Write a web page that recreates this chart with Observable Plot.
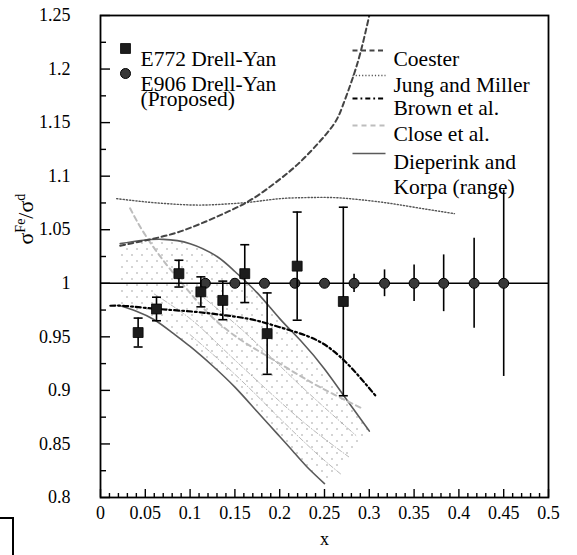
<!DOCTYPE html>
<html>
<head>
<meta charset="utf-8">
<script src="https://cdn.jsdelivr.net/npm/d3@7"></script>
<script src="https://cdn.jsdelivr.net/npm/@observablehq/plot@0.6"></script>
<style>
  body { margin: 0; background: #fff; }
  #wrap { position: relative; width: 577px; height: 555px; overflow: hidden; }
  #wrap svg, #wrap svg text { font-family: "Liberation Serif", "Times New Roman", serif !important; }
  #corner { position: absolute; left: -3px; top: 517px; width: 15px; height: 50px;
            border-top: 2px solid #000; border-right: 2px solid #000; }
</style>
</head>
<body>
<div id="wrap"><div id="corner"></div></div>
<script>
// ---- data ----
const e772X   = [0.042, 0.0625, 0.0875, 0.112, 0.1365, 0.161, 0.186, 0.2195, 0.271];
const e772Y   = [0.954, 0.976, 1.009, 0.992, 0.984, 1.009, 0.953, 1.016, 0.983];
const e772Err = [0.0135, 0.011, 0.0125, 0.014, 0.018, 0.027, 0.038, 0.0505, 0.088];

const e906X   = [0.117, 0.15, 0.183, 0.217, 0.25, 0.283, 0.317, 0.35, 0.383, 0.417, 0.45];
const e906Y   = [1, 1, 1, 1, 1, 1, 1, 1, 1, 1, 1];
const e906Err = [0.004, 0.003, 0.003, 0.004, 0.003, 0.0085, 0.0125, 0.017, 0.0265, 0.042, 0.087];

const coesterX = [0.022, 0.05, 0.08, 0.11, 0.14, 0.17, 0.2, 0.22, 0.24, 0.26, 0.27, 0.28, 0.29, 0.3];
const coesterY = [1.035, 1.04, 1.046, 1.055, 1.066, 1.079, 1.097, 1.111, 1.128, 1.148, 1.165, 1.188, 1.215, 1.25];

const jungX = [0.018, 0.05, 0.08, 0.11, 0.14, 0.17, 0.2, 0.23, 0.26, 0.29, 0.32, 0.35, 0.38, 0.395];
const jungY = [1.079, 1.076, 1.074, 1.073, 1.074, 1.076, 1.079, 1.08, 1.08, 1.078, 1.075, 1.071, 1.067, 1.065];

const brownX = [0.011, 0.025, 0.05, 0.08, 0.11, 0.14, 0.17, 0.2, 0.23, 0.255, 0.28, 0.307];
const brownY = [0.979, 0.979, 0.977, 0.975, 0.973, 0.970, 0.966, 0.959, 0.951, 0.94, 0.921, 0.895];

const closeX = [0.033, 0.05, 0.075, 0.1, 0.125, 0.155, 0.18, 0.21, 0.245, 0.29];
const closeY = [1.07, 1.045, 1.016, 0.991, 0.968, 0.948, 0.935, 0.92, 0.903, 0.884];

const dkUpperX = [0.022, 0.045, 0.07, 0.1, 0.13, 0.15, 0.175, 0.2, 0.225, 0.25, 0.275, 0.3];
const dkUpperY = [1.037, 1.040, 1.041, 1.037, 1.025, 1.011, 0.991, 0.967, 0.945, 0.92, 0.891, 0.862];
const dkLowerX = [0.022, 0.04, 0.06, 0.08, 0.1, 0.125, 0.15, 0.175, 0.2, 0.215, 0.23, 0.25];
const dkLowerY = [0.979, 0.974, 0.966, 0.954, 0.941, 0.923, 0.903, 0.880, 0.857, 0.843, 0.829, 0.813];

const range1X = [0.06, 0.1, 0.134, 0.18, 0.23, 0.277];
const range1Y = [0.99, 0.967, 0.941, 0.905, 0.868, 0.838];
const range2X = [0.1, 0.15, 0.2, 0.24, 0.268];
const range2Y = [0.952, 0.915, 0.874, 0.842, 0.822];
const range3X = [0.11, 0.16, 0.21, 0.25, 0.285];
const range3Y = [0.99, 0.955, 0.915, 0.884, 0.858];

const xTicks = [0, 0.05, 0.1, 0.15, 0.2, 0.25, 0.3, 0.35, 0.4, 0.45, 0.5];
const xTickLabels = ["0", "0.05", "0.1", "0.15", "0.2", "0.25", "0.3", "0.35", "0.4", "0.45", "0.5"];
const xMinor = [0.01,0.02,0.03,0.04,0.06,0.07,0.08,0.09,0.11,0.12,0.13,0.14,0.16,0.17,0.18,0.19,
                0.21,0.22,0.23,0.24,0.26,0.27,0.28,0.29,0.31,0.32,0.33,0.34,0.36,0.37,0.38,0.39,
                0.41,0.42,0.43,0.44,0.46,0.47,0.48,0.49];
const yTicks = [0.8, 0.85, 0.9, 0.95, 1, 1.05, 1.1, 1.15, 1.2, 1.25];
const yTickLabels = ["0.8", "0.85", "0.9", "0.95", "1", "1.05", "1.1", "1.15", "1.2", "1.25"];
const yMinor = [0.825, 0.875, 0.925, 0.975, 1.025, 1.075, 1.125, 1.175, 1.225];

// ---- tables ----
const pts = (xs, ys) => xs.map((x, i) => ({x, y: ys[i]}));
const e772 = e772X.map((x, i) => ({x, y: e772Y[i], lo: e772Y[i] - e772Err[i], hi: e772Y[i] + e772Err[i]}));
const e906 = e906X.map((x, i) => ({x, y: e906Y[i], lo: e906Y[i] - e906Err[i], hi: e906Y[i] + e906Err[i]}));
const band = dkUpperX.map((x, i) => ({xu: x, yu: dkUpperY[i], xl: dkLowerX[i], yl: dkLowerY[i]}));

const capSym = {draw(c) { c.moveTo(-4.5, 0); c.lineTo(4.5, 0); }};
const legLine = {draw(c) { c.moveTo(-16.5, 0); c.lineTo(16.5, 0); }};

const serif = "'Liberation Serif', 'Times New Roman', serif";
const legFont = 21.5;
const TL = "top-left";
const T = {fontFamily: serif};

const styles = {
  coester: {stroke: "#444", strokeWidth: 2, strokeDasharray: "5,3.5"},
  jung:    {stroke: "#555", strokeWidth: 1.4, strokeDasharray: "1.2,2"},
  brown:   {stroke: "#000", strokeWidth: 2.2, strokeDasharray: "5,3,1.8,3"},
  close:   {stroke: "#bdbdbd", strokeWidth: 2, strokeDasharray: "5,4"},
  dk:      {stroke: "#5a5a5a", strokeWidth: 1.6}
};
const rangeStyle = {stroke: "#9a9a9a", strokeWidth: 0.7, strokeDasharray: "5,2,1,2"};

const svg = Plot.plot({
  width: 577, height: 555,
  marginLeft: 100, marginRight: 29, marginTop: 15, marginBottom: 58,
  x: {domain: [0, 0.5]},
  y: {domain: [0.8, 1.25]},
  style: {fontFamily: serif, fontSize: "18px", color: "#000", background: "#fff"},
  marks: [
    // Dieperink & Korpa range band
    Plot.area(band, {x1: "xl", y1: "yl", x2: "xu", y2: "yu", fill: "url(#stip)", stroke: "none"}),
    Plot.line(pts(range1X, range1Y), {x: "x", y: "y", curve: "natural", ...rangeStyle}),
    Plot.line(pts(range2X, range2Y), {x: "x", y: "y", curve: "natural", ...rangeStyle}),
    Plot.line(pts(range3X, range3Y), {x: "x", y: "y", curve: "natural", ...rangeStyle}),
    Plot.line(pts(dkUpperX, dkUpperY), {x: "x", y: "y", curve: "natural", ...styles.dk}),
    Plot.line(pts(dkLowerX, dkLowerY), {x: "x", y: "y", curve: "natural", ...styles.dk}),
    // theory curves
    Plot.line(pts(closeX, closeY), {x: "x", y: "y", curve: "natural", ...styles.close}),
    Plot.line(pts(brownX, brownY), {x: "x", y: "y", curve: "natural", ...styles.brown}),
    Plot.line(pts(jungX, jungY), {x: "x", y: "y", curve: "natural", ...styles.jung}),
    Plot.line(pts(coesterX, coesterY), {x: "x", y: "y", curve: "natural", clip: true, ...styles.coester}),
    // unity line
    Plot.ruleY([1], {stroke: "#000", strokeWidth: 1.5}),
    // E906 points
    Plot.ruleX(e906, {x: "x", y1: "lo", y2: "hi", stroke: "#000", strokeWidth: 1.6}),
    Plot.dot(e906, {x: "x", y: "y", r: 5, fill: "#383838", stroke: "#000", strokeWidth: 1}),
    // E772 points
    Plot.ruleX(e772, {x: "x", y1: "lo", y2: "hi", stroke: "#000", strokeWidth: 1.6}),
    Plot.dot(e772, {x: "x", y: "lo", symbol: capSym, fill: "none", stroke: "#000", strokeWidth: 1.6}),
    Plot.dot(e772, {x: "x", y: "hi", symbol: capSym, fill: "none", stroke: "#000", strokeWidth: 1.6}),
    Plot.dot(e772, {x: "x", y: "y", symbol: "square", r: 5.6, fill: "#1c1c1c", stroke: "#000", strokeWidth: 0.8}),
    // frame and axes (inward ticks)
    Plot.frame({stroke: "#000", strokeWidth: 1.8}),
    Plot.ruleY(yTicks, {y: d => d, insetRight: 438, stroke: "#000", strokeWidth: 1.4}),
    Plot.ruleY(yMinor, {y: d => d, insetRight: 442, stroke: "#000", strokeWidth: 1.4}),
    Plot.ruleX(xTicks, {x: d => d, insetTop: 474, stroke: "#000", strokeWidth: 1.4}),
    Plot.ruleX(xMinor, {x: d => d, insetTop: 478, stroke: "#000", strokeWidth: 1.4}),
    Plot.axisX({ticks: xTicks, tickSize: 0, tickPadding: 9, label: null,
                tickFormat: d => xTickLabels[xTicks.indexOf(d)], fontSize: 18, ...T}),
    Plot.axisY({ticks: yTicks, tickSize: 0, tickPadding: 30, label: null,
                tickFormat: d => yTickLabels[yTicks.indexOf(d)], fontSize: 18, ...T}),
    Plot.text(["x"], {frameAnchor: "bottom", dy: 47, fontSize: 18, ...T}),
    Plot.text(["σFe/σd"], {frameAnchor: "left", dx: -75, dy: -12, rotate: -90, fontSize: 22, className: "ylab", ...T}),
    // legend (left)
    Plot.dot([0], {frameAnchor: TL, dx: 25, dy: 33, symbol: "square", r: 5.6, fill: "#1c1c1c", stroke: "#000", strokeWidth: 0.8}),
    Plot.text(["E772 Drell-Yan"], {frameAnchor: TL, dx: 40, dy: 35, textAnchor: "start", fontSize: legFont, ...T}),
    Plot.dot([0], {frameAnchor: TL, dx: 25, dy: 58, r: 5, fill: "#383838", stroke: "#000", strokeWidth: 1}),
    Plot.text(["E906 Drell-Yan"], {frameAnchor: TL, dx: 40, dy: 60, textAnchor: "start", fontSize: legFont, ...T}),
    Plot.text(["(Proposed)"], {frameAnchor: TL, dx: 40, dy: 75, textAnchor: "start", fontSize: legFont, ...T}),
    // legend (right)
    Plot.dot([0], {frameAnchor: TL, dx: 268.5, dy: 35, symbol: legLine, fill: "none", ...styles.coester}),
    Plot.text(["Coester"], {frameAnchor: TL, dx: 293, dy: 35, textAnchor: "start", fontSize: legFont, ...T}),
    Plot.dot([0], {frameAnchor: TL, dx: 268.5, dy: 60, symbol: legLine, fill: "none", ...styles.jung}),
    Plot.text(["Jung and Miller"], {frameAnchor: TL, dx: 293, dy: 61, textAnchor: "start", fontSize: legFont, ...T}),
    Plot.dot([0], {frameAnchor: TL, dx: 268.5, dy: 83, symbol: legLine, fill: "none", ...styles.brown}),
    Plot.text(["Brown et al."], {frameAnchor: TL, dx: 293, dy: 84, textAnchor: "start", fontSize: legFont, ...T}),
    Plot.dot([0], {frameAnchor: TL, dx: 268.5, dy: 110, symbol: legLine, fill: "none", ...styles.close}),
    Plot.text(["Close et al."], {frameAnchor: TL, dx: 293, dy: 110, textAnchor: "start", fontSize: legFont, ...T}),
    Plot.dot([0], {frameAnchor: TL, dx: 268.5, dy: 138, symbol: legLine, fill: "none", stroke: "#5a5a5a", strokeWidth: 1.3}),
    Plot.text(["Dieperink and"], {frameAnchor: TL, dx: 293, dy: 138, textAnchor: "start", fontSize: legFont, ...T}),
    Plot.text(["Korpa (range)"], {frameAnchor: TL, dx: 293, dy: 163, textAnchor: "start", fontSize: legFont, ...T})
  ]
});

// stipple pattern for the range band
const ns = "http://www.w3.org/2000/svg";
const defs = document.createElementNS(ns, "defs");
defs.innerHTML = '<pattern id="stip" width="10" height="12" patternUnits="userSpaceOnUse">' +
  '<circle cx="2" cy="3" r="0.7" fill="#888"/><circle cx="7" cy="9" r="0.7" fill="#888"/></pattern>';
svg.insertBefore(defs, svg.firstChild);

// y-axis label with superscripts
const yl = svg.querySelector(".ylab text");
if (yl) {
  yl.textContent = "";
  const parts = [["σ", null, null], ["Fe", -8, 14], ["/σ", 8, null], ["d", -8, 14]];
  for (const [t, dy, fs] of parts) {
    const ts = document.createElementNS(ns, "tspan");
    ts.textContent = t;
    if (dy != null) ts.setAttribute("dy", dy);
    if (fs != null) ts.setAttribute("font-size", fs);
    yl.appendChild(ts);
  }
}

document.getElementById("wrap").prepend(svg);
</script>
</body>
</html>
